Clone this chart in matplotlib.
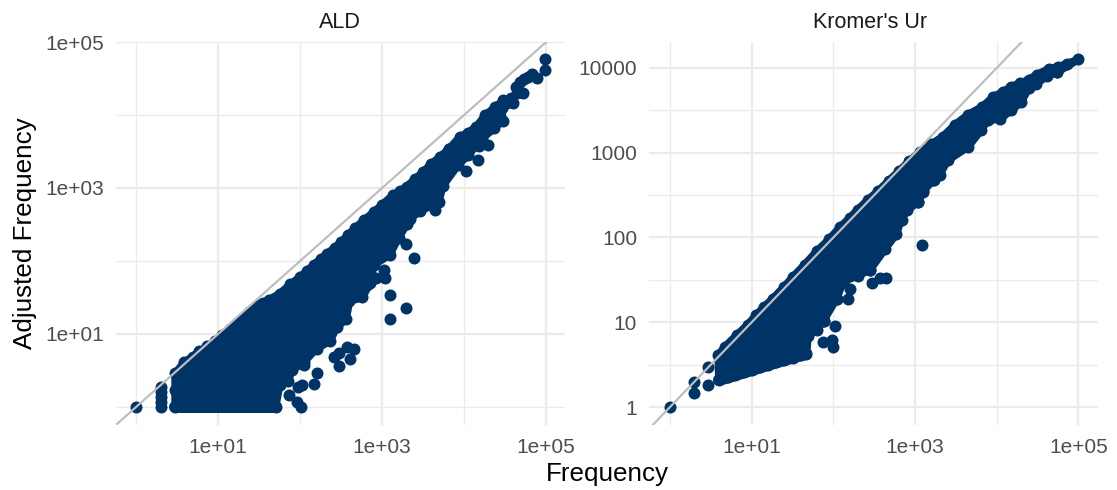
import numpy as np
import matplotlib
matplotlib.use("Agg")
import matplotlib.pyplot as plt
from matplotlib.ticker import NullFormatter

plt.rcParams['font.family'] = ['Liberation Sans', 'DejaVu Sans']

W, H = 1117, 490
NAVY = '#003366'
GRID = '#EBEBEB'
LINE = '#BEBEBE'
TICK_TEXT = '#4D4D4D'
POINT_PX = 12

# all values below are log10 of the frequencies

# ALD: points along the outline of the solid part of the cloud
ald_edge_x = [0.477, 0.477, 0.477, 0.585, 0.69, 0.77, 0.87, 0.96, 1.05, 1.15, 1.22, 1.30, 1.38, 1.49, 1.55, 1.62, 1.75, 1.88, 2.0, 2.08, 2.17,
              2.25, 2.33, 2.42, 2.5, 2.58, 2.67, 2.78, 2.9, 3.0, 3.13, 3.22, 3.3, 3.40, 3.50, 3.6, 3.71, 3.81, 3.95, 4.05, 4.15, 4.26, 4.38, 4.48, 4.57, 4.60, 4.46, 4.47, 4.37, 4.22,
              4.05, 3.93, 3.74, 3.69, 3.46, 3.34, 3.30, 3.20, 3.09, 2.90, 2.85, 2.76, 2.60, 2.56, 2.45, 2.36, 2.20,
              2.05, 1.90, 1.85, 1.75, 1.70]
ald_edge_y = [0.0, 0.23, 0.46, 0.61, 0.69, 0.76, 0.83, 0.90, 0.98, 1.07, 1.14, 1.22, 1.30, 1.40, 1.43, 1.47, 1.55, 1.68, 1.78, 1.86, 1.95,
              2.03, 2.10, 2.18, 2.26, 2.35, 2.45, 2.56, 2.67, 2.77, 2.90, 2.96, 3.02, 3.12, 3.22, 3.33, 3.43, 3.53, 3.70, 3.76, 3.84, 4.00, 4.11, 4.20, 4.23, 4.17, 4.09, 3.92, 3.82, 3.68,
              3.45, 3.32, 3.03, 2.81, 2.68, 2.58, 2.50, 2.32, 2.08, 1.95, 1.70, 1.50, 1.45, 1.20, 1.10, 0.90, 0.80,
              0.62, 0.50, 0.35, 0.30, 0.0]

# ALD: the flat row of points at frequency 1
ald_base_x = [0.477, 1.70]
ald_base_y = [0.0, 0.0]

# ALD: the separate points around it
ald_x = [0, 0.30, 0.30, 0.30, 0.30, 0.30, 4.99, 4.99, 4.89, 4.83, 4.78, 4.73, 4.72, 4.68, 4.65, 4.63, 4.29, 4.18, 4.17, 4.02, 3.81,
         3.64, 2.01, 1.96, 1.86, 1.98, 2.02, 2.17, 2.21, 2.05, 2.47, 2.41, 2.47, 2.61, 2.57, 2.66, 3.09, 3.29,
         3.09, 3.02, 3.03, 2.93, 2.81, 2.87, 3.39, 3.29]
ald_y = [0, 0, 0.07, 0.14, 0.21, 0.28, 4.77, 4.62, 4.50, 4.56, 4.52, 4.49, 4.30, 4.45, 4.30, 4.38, 3.59, 3.58, 3.38, 3.23, 3.53,
         2.70, 0.0, 0.07, 0.17, 0.28, 0.30, 0.32, 0.46, 0.58, 0.56, 0.69, 0.74, 0.66, 0.82, 0.79, 1.20, 1.35,
         1.53, 1.88, 1.77, 1.77, 1.67, 1.95, 2.04, 2.23]

# Kromer's Ur: points along the outline of the solid part of the cloud
kromer_edge_x = [0.59, 0.67, 0.82, 0.95, 1.05, 1.15, 1.26, 1.4, 1.5, 1.65, 1.8, 1.95, 2.08, 2.2, 2.3, 2.42, 2.55, 2.68, 2.8, 2.93, 3.06, 3.2, 3.34, 3.49, 3.65, 3.82, 3.96,
                 4.08, 4.18, 4.29, 4.39, 4.49, 4.64, 4.75, 4.86, 5.0, 4.74, 4.61, 4.48, 4.39, 4.30, 4.18, 4.04, 3.89,
                 3.81, 3.65, 3.40, 3.30, 3.23, 3.10, 3.04, 2.90, 2.83, 2.77, 2.63, 2.45, 2.30, 2.12, 2.04, 1.88, 1.80,
                 1.69, 1.67, 1.6, 1.5, 1.4, 1.3, 1.2, 1.1, 1.0, 0.9, 0.8, 0.71, 0.60]
kromer_edge_y = [0.61, 0.71, 0.85, 0.97, 1.08, 1.18, 1.28, 1.42, 1.53, 1.68, 1.84, 1.98, 2.12, 2.23, 2.33, 2.44, 2.55, 2.67, 2.78, 2.90, 3.01, 3.10, 3.19, 3.33, 3.45, 3.54, 3.66,
                 3.72, 3.78, 3.82, 3.86, 3.92, 3.99, 4.01, 4.05, 4.10, 3.95, 3.90, 3.81, 3.76, 3.60, 3.50, 3.40, 3.38,
                 3.27, 3.07, 2.91, 2.74, 2.68, 2.55, 2.42, 2.32, 2.21, 2.04, 1.86, 1.62, 1.55, 1.48, 1.28, 1.02, 0.91,
                 0.84, 0.63, 0.61, 0.58, 0.55, 0.53, 0.50, 0.47, 0.44, 0.41, 0.38, 0.35, 0.32]

# Kromer's Ur: the straight lower edge of the cloud
kromer_base_x = [0.60, 0.71, 1.26, 1.67]
kromer_base_y = [0.32, 0.35, 0.515, 0.63]

# Kromer's Ur: the separate points around it
kromer_x = [0, 0.29, 0.29, 0.47, 0.47, 2.02, 2.00, 1.98, 1.87, 1.59, 1.88, 2.18, 2.20, 2.04, 2.12,
            2.47, 2.65, 2.57, 2.45, 3.09, 2.67, 2.84, 3.04, 3.10, 3.22, 4.74]
kromer_y = [0, 0.30, 0.17, 0.475, 0.26, 0.95, 0.71, 0.79, 0.77, 0.73, 1.02, 1.28, 1.39, 1.28, 1.48,
            1.46, 1.52, 1.52, 1.62, 1.91, 2.01, 2.21, 2.42, 2.54, 2.68, 3.95]

# ticks
ald_major = [1, 3, 5]
ald_minor = [0, 2, 4]
ald_labels = ['1e+01', '1e+03', '1e+05']
kromer_y_major = [0, 1, 2, 3, 4]
kromer_y_minor = [0.5, 1.5, 2.5, 3.5]
kromer_y_labels = ['1', '10', '100', '1000', '10000']


def pow10(vals):
    return np.power(10.0, np.array(vals, dtype=float))


def make_panel(box, xlim, ylim, edge_x, edge_y, base_x, base_y, pts_x, pts_y, yticks, yminor, ylabels):
    left, top, right, bottom = box
    ax = fig.add_axes([left / W, 1 - bottom / H, (right - left) / W, (bottom - top) / H])
    ax.set_xscale('log')
    ax.set_yscale('log')
    ax.set_xlim(10.0 ** xlim[0], 10.0 ** xlim[1])
    ax.set_ylim(10.0 ** ylim[0], 10.0 ** ylim[1])

    ax.set_xticks(pow10(ald_major))
    ax.set_xticklabels(ald_labels)
    ax.set_xticks(pow10(ald_minor), minor=True)
    ax.set_yticks(pow10(yticks))
    ax.set_yticklabels(ylabels)
    ax.set_yticks(pow10(yminor), minor=True)
    ax.xaxis.set_minor_formatter(NullFormatter())
    ax.yaxis.set_minor_formatter(NullFormatter())

    ax.grid(True, which='major', color=GRID, lw=1.6)
    ax.grid(True, which='minor', color=GRID, lw=0.95)
    ax.set_axisbelow(True)
    ax.tick_params(which='both', length=0)
    ax.tick_params(axis='both', which='major', labelsize=15, labelcolor=TICK_TEXT)
    ax.tick_params(axis='x', which='major', pad=9.5)
    ax.tick_params(axis='y', which='major', pad=8.5)
    for s in ax.spines.values():
        s.set_visible(False)

    # thin stroke on the fill: the points on the outline stick out a bit past it
    ax.fill(pow10(edge_x), pow10(edge_y), facecolor=NAVY, edgecolor=NAVY,
            lw=POINT_PX * 0.72 * 0.65, joinstyle='round', zorder=2)
    ax.plot(pow10(base_x), pow10(base_y), color=NAVY, lw=POINT_PX * 0.72,
            solid_capstyle='round', zorder=2)
    ax.scatter(pow10(edge_x), pow10(edge_y), s=(POINT_PX * 0.72) ** 2, color=NAVY, lw=0, zorder=2)
    ax.scatter(pow10(pts_x), pow10(pts_y), s=(POINT_PX * 0.72) ** 2, color=NAVY, lw=0, zorder=2)
    ax.plot([0.1, 1e6], [0.1, 1e6], color=LINE, lw=1.6, zorder=3)
    return ax


fig = plt.figure(figsize=(W / 100, H / 100), dpi=100)

ax1 = make_panel((116, 42, 565, 425), (-0.245, 5.23), (-0.247, 5.0),
                 ald_edge_x, ald_edge_y, ald_base_x, ald_base_y, ald_x, ald_y, ald_major, ald_minor, ald_labels)
ax2 = make_panel((649, 42, 1098, 425), (-0.257, 5.24), (-0.212, 4.306),
                 kromer_edge_x, kromer_edge_y, kromer_base_x, kromer_base_y, kromer_x, kromer_y,
                 kromer_y_major, kromer_y_minor, kromer_y_labels)

fig.text(340 / W, 1 - 23 / H, 'ALD', ha='center', va='center', fontsize=15.5, color='#1A1A1A')
fig.text(870 / W, 1 - 23 / H, "Kromer's Ur", ha='center', va='center', fontsize=15.5, color='#1A1A1A')
fig.text(607 / W, 1 - 474 / H, 'Frequency', ha='center', va='center', fontsize=18.7)
fig.text(25 / W, 1 - 233 / H, 'Adjusted Frequency', ha='center', va='center', rotation=90, fontsize=18.7)

fig.savefig('out.png', dpi=100)
